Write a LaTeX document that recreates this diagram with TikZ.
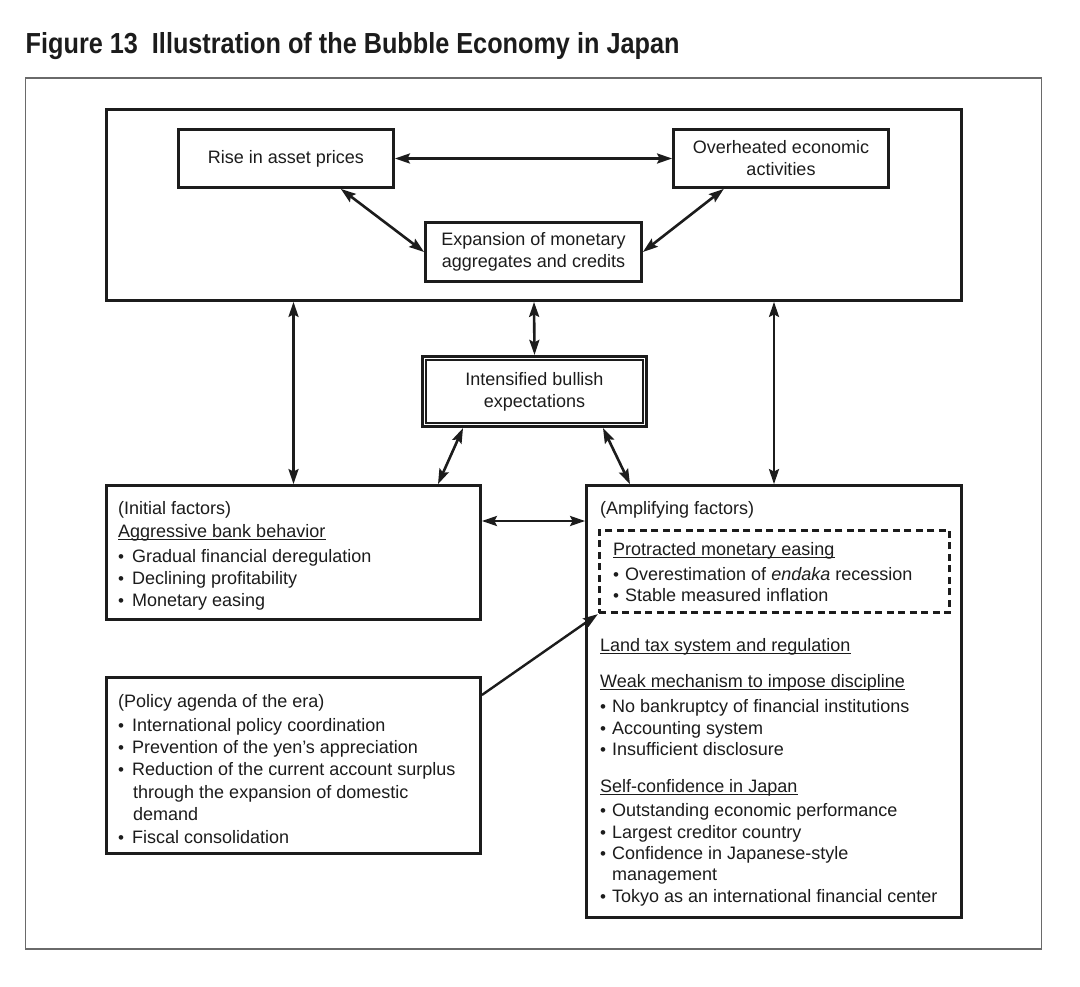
\documentclass[tikz,border=0pt]{standalone}
\usepackage{fontspec}
\setmainfont{Liberation Sans}
\usetikzlibrary{arrows.meta,calc}
\definecolor{ink}{HTML}{1C1C1C}
\definecolor{framegray}{HTML}{6A6A6A}
\newcommand\fs{\fontsize{18}{22}\selectfont}
\newcommand\bl[1][14pt]{\makebox[#1][l]{\fontsize{17}{17}\selectfont\textbullet}}
\begin{document}
\begin{tikzpicture}[x=1pt,y=-1pt,
  box/.style={draw=ink, line width=2.8pt, inner sep=0pt, align=center, font=\fs, text=ink},
  txt/.style={anchor=base west, inner sep=0pt, font=\fs, text=ink},
  ul/.style={draw=ink, line width=1pt},
  tip/.tip={Stealth[length=15pt,width=10pt,inset=2.5pt]},
  arr/.style={draw=ink, line width=2.6pt, tip-tip},
  arrone/.style={draw=ink, line width=2.4pt, -tip}
]
\fill[white] (0,0) rectangle (1080,987);
\useasboundingbox (0,0) rectangle (1080,987);

% title
\node[anchor=base west, inner sep=0pt, text=ink] (title) at (25.5,53.3)
  {\scalebox{1.01}[1.16]{\fontsize{25}{30}\selectfont\bfseries Figure 13\ \ Illustration of the Bubble Economy in Japan}};

% outer frame
\node[draw=framegray, line width=1.3pt, minimum width=1016pt, minimum height=871pt, inner sep=0pt] (frame) at (533.75,513.5) {};

% top group
\node[box, minimum width=855pt, minimum height=191pt] (top) at (534,205) {};
\node[box, minimum width=215pt, minimum height=58pt] (rise) at (286,158.5) {Rise in asset prices};
\node[box, minimum width=215pt, minimum height=58pt] (over) at (781,158.5) {Overheated economic\\activities};
\node[box, minimum width=216pt, minimum height=59pt] (exp) at (533.5,252) {Expansion of monetary\\aggregates and credits};

\draw[arr] (rise.east) -- (over.west);
\draw[arr] (rise.-29) -- (exp.west);
\draw[arr] (over.208) -- (exp.east);

% intensified (double border)
\node[box, line width=3.2pt, minimum width=224pt, minimum height=70pt] (int) at (534.5,391.5) {Intensified bullish\\expectations};
\draw[draw=ink, line width=1.8pt] ([xshift=5.4pt,yshift=-5.4pt]int.north west) rectangle ([xshift=-5.4pt,yshift=5.4pt]int.south east);

% lower boxes
\node[box, minimum width=374pt, minimum height=134pt] (init) at (293.5,552.5) {};
\node[box, minimum width=375pt, minimum height=432pt] (amp) at (774,701.5) {};
\node[box, minimum width=374pt, minimum height=176pt] (pol) at (293.5,765.5) {};
\node[draw=ink, line width=2.8pt, dash pattern=on 7pt off 4.5pt, minimum width=350.5pt, minimum height=82.5pt, inner sep=0pt] (dash) at (774.5,571.5) {};

% connectors
\draw[arr] (top.south) -- (int.north);
\draw[arr] (init.north |- top.south) -- (init.north);
\draw[arr] (amp.north |- top.south) -- (amp.north);
\draw[arr] ([xshift=-71.5pt]int.south) -- ([xshift=144.5pt]init.north);
\draw[arr] ([xshift=68.5pt]int.south) -- ([xshift=-144pt]amp.north);
\coordinate (hy) at (0,521);
\draw[arr] (init.east |- hy) -- (amp.west |- hy);
\coordinate (py) at (0,695);
\draw[arrone] (pol.east |- py) -- (dash.south west);

% initial factors text
\node[txt] (i1) at (118,514) {(Initial factors)};
\node[txt] (i2) at (118,537) {Aggressive bank behavior};
\node[txt] (i3) at (118,562) {\bl Gradual financial deregulation};
\node[txt] (i4) at (118,584) {\bl Declining profitability};
\node[txt] (i5) at (118,606) {\bl Monetary easing};
\draw[ul] ([yshift=-2.5pt]i2.base west) -- ([yshift=-2.5pt]i2.base east);

% policy text
\node[txt] (p1) at (118,707) {(Policy agenda of the era)};
\node[txt] (p2) at (118,731) {\bl International policy coordination};
\node[txt] (p3) at (118,753) {\bl Prevention of the yen’s appreciation};
\node[txt] (p4) at (118,775) {\bl Reduction of the current account surplus};
\node[txt] (p5) at (118,798) {\hspace{15pt}through the expansion of domestic};
\node[txt] (p6) at (118,820) {\hspace{15pt}demand};
\node[txt] (p7) at (118,843) {\bl Fiscal consolidation};

% amplifying text
\node[txt] (a1) at (600,514) {(Amplifying factors)};
\node[txt] (a2) at (613,555) {Protracted monetary easing};
\node[txt] (a3) at (613,580) {\bl[12pt]Overestimation of \textit{endaka} recession};
\node[txt] (a4) at (613,601) {\bl[12pt]Stable measured inflation};
\node[txt] (a5) at (600,651) {Land tax system and regulation};
\node[txt] (a6) at (600,687) {Weak mechanism to impose discipline};
\node[txt] (a7) at (600,712) {\bl[12pt]No bankruptcy of financial institutions};
\node[txt] (a8) at (600,734) {\bl[12pt]Accounting system};
\node[txt] (a9) at (600,755) {\bl[12pt]Insufficient disclosure};
\node[txt] (a10) at (600,792) {Self-confidence in Japan};
\node[txt] (a11) at (600,816) {\bl[12pt]Outstanding economic performance};
\node[txt] (a12) at (600,838) {\bl[12pt]Largest creditor country};
\node[txt] (a13) at (600,859) {\bl[12pt]Confidence in Japanese-style};
\node[txt] (a14) at (600,880) {\hspace{12pt}management};
\node[txt] (a15) at (600,902) {\bl[12pt]Tokyo as an international financial center};
\foreach \n in {a2,a5,a6,a10}
  \draw[ul] ([yshift=-2.5pt]\n.base west) -- ([yshift=-2.5pt]\n.base east);
\end{tikzpicture}
\end{document}
